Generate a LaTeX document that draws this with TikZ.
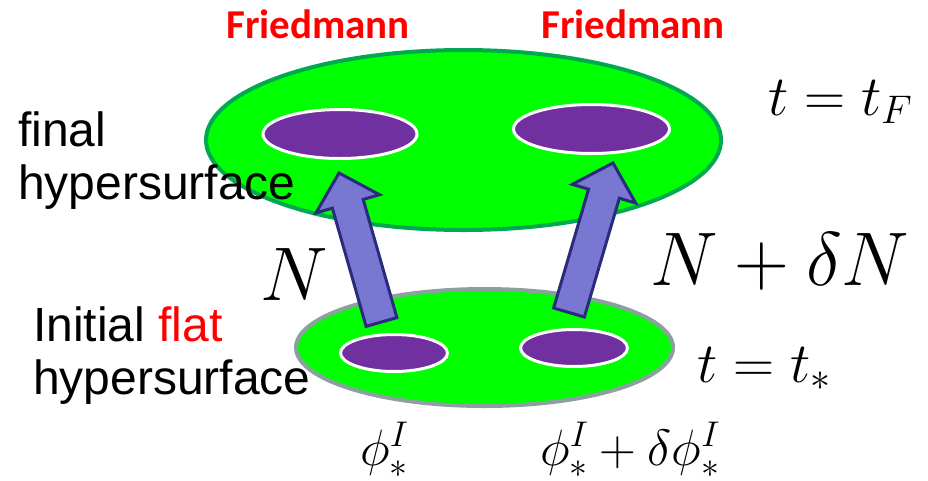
\RequirePackage{fix-cm}
\documentclass[tikz,border=0pt]{standalone}
\usepackage{fontspec}
\usepackage{tikz}
\usetikzlibrary{shapes.geometric,calc}
\newfontfamily\arialfont{Liberation Sans}
\newfontfamily\calfont{Carlito}
\definecolor{surfgreen}{HTML}{00FF00}
\definecolor{finalline}{HTML}{00A850}
\definecolor{initline}{HTML}{8CA0A0}
\definecolor{patchpurple}{HTML}{7030A0}
\definecolor{arrowfill}{HTML}{7878D2}
\definecolor{arrowline}{HTML}{2B2B7E}
\definecolor{friedred}{HTML}{FF0000}

% fat block arrow from #1 (tail) to #2 (tip)
\newcommand{\fatarrow}[2]{%
  \coordinate (hb) at ($(#2)!32pt!(#1)$);
  \draw[blockarr] ($(#1)!16pt!90:(#2)$) -- ($(hb)!16pt!90:(#2)$)
    -- ($(hb)!33pt!90:(#2)$) -- (#2) -- ($(hb)!33pt!-90:(#2)$)
    -- ($(hb)!16pt!-90:(#2)$) -- ($(#1)!16pt!-90:(#2)$) -- cycle;}

\begin{document}
\begin{tikzpicture}[x=1pt, y=-1pt,
    surf/.style={ellipse, fill=surfgreen, line width=4pt, inner sep=0pt},
    patch/.style={ellipse, fill=patchpurple, draw=white, line width=3pt,
                  inner sep=0pt, minimum height=49pt},
    blockarr/.style={fill=arrowfill, draw=arrowline, line width=3pt, line join=miter},
    fried/.style={inner sep=0pt, anchor=base west, text=friedred,
                  font=\calfont\fontsize{41}{46}\bfseries},
    side/.style={inner sep=0pt, anchor=north west, align=left,
                 font=\arialfont\fontsize{48}{53}\selectfont},
    mth/.style={inner sep=0pt, anchor=base west}
]
  \useasboundingbox (0,0) rectangle (928,480);

  % the two hypersurfaces
  \node[surf, draw=finalline, minimum width=515pt, minimum height=180pt] (final) at (463.5,140) {};
  \node[surf, draw=initline, minimum width=377pt, minimum height=117pt] (init) at (484.5,347.5) {};

  \node[patch, minimum width=154pt] (finL) at (340,134) {};
  \node[patch, minimum width=156pt] (finR) at (591.5,129) {};
  \node[patch, minimum width=107pt, minimum height=37pt] (iniL) at (394,353) {};
  \node[patch, minimum width=107pt, minimum height=37pt] (iniR) at (574,348) {};

  % arrows
  \coordinate (tailL) at (381.5,322);
  \coordinate (tipL) at (339,173);
  \coordinate (tailR) at (569,312.5);
  \coordinate (tipR) at (613,163);
  \fatarrow{tailL}{tipL}
  \fatarrow{tailR}{tipR}

  % labels
  \node[fried] (friedL) at (226,38) {Friedmann};
  \node[fried] (friedR) at (541,38) {Friedmann};
  \node[side] (finaltxt) at (18,112) {final\\hypersurface};
  \node[side] (inittxt) at (33,307) {Initial \textcolor{friedred}{flat}\\hypersurface};

  \node[mth, font=\fontsize{57}{60}\selectfont] (tF) at (768,115) {$t=t_F$};
  \node[mth, font=\fontsize{57}{60}\selectfont] (tstar) at (697,382) {$t=t_*$};
  \node[mth, font=\fontsize{76}{80}\selectfont] (NL) at (260,300) {$N$};
  \node[mth, font=\fontsize{76}{80}\selectfont] (NR) at (650,285) {$N+\delta N$};
  \node[mth, font=\fontsize{51}{54}\selectfont] (phiL) at (360,465) {$\phi^I_*$};
  \node[mth, font=\fontsize{51}{54}\selectfont] (phiR) at (540,465) {$\phi^I_*+\delta\phi^I_*$};
\end{tikzpicture}
\end{document}
